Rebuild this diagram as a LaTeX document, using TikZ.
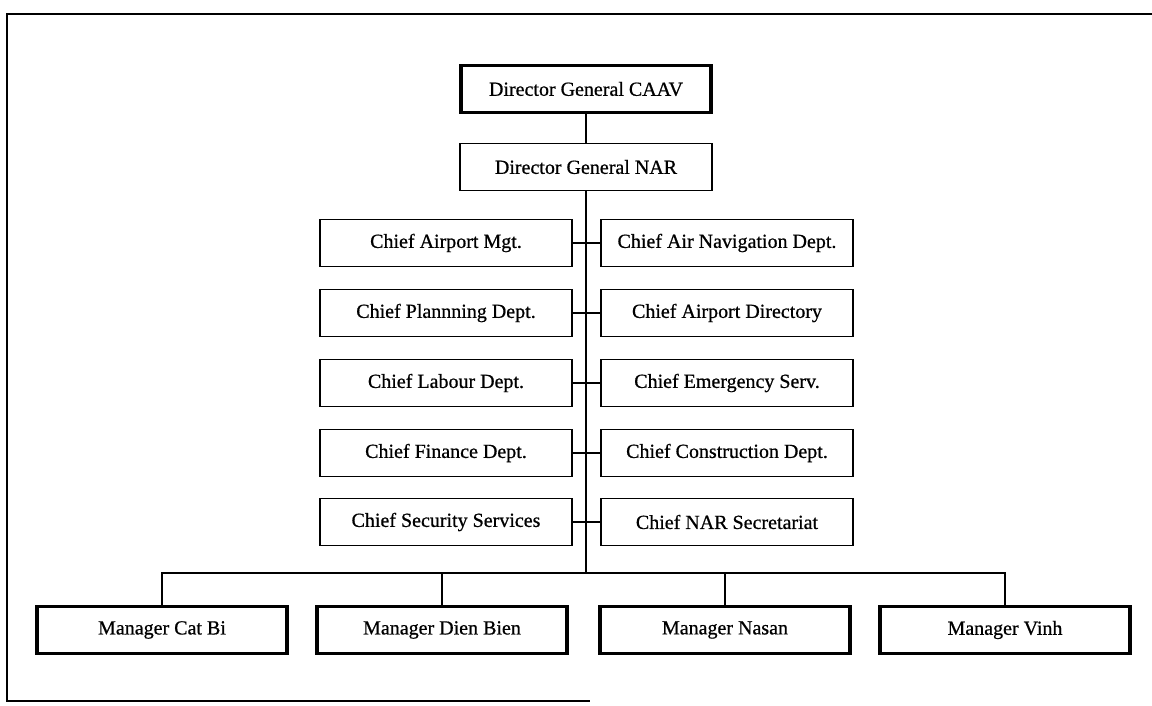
\documentclass[tikz,border=0pt]{standalone}
\usepackage{fontspec}
\setmainfont{Liberation Serif}
\newfontfamily\scanfont{Liberation Serif}[FakeBold=0.7]
\begin{document}
\begin{tikzpicture}[x=1pt,y=-1pt,
  every node/.style={font=\scanfont\fontsize{20}{23}\selectfont},
  thinbox/.style={draw, line width=1.5pt, minimum width=252pt, minimum height=47pt, inner sep=2pt},
  thickbox/.style={draw, line width=3.2pt, minimum width=250pt, minimum height=47pt, inner sep=2pt},
  link/.style={line width=1.9pt},
  frame/.style={line width=1.6pt}]
\useasboundingbox (0,0) rectangle (1152,706);
% frame
\coordinate (ftl) at (7,14);
\coordinate (ftr) at (1152,14);
\coordinate (fbl) at (7,701);
\coordinate (fbr) at (590,701);
\draw[frame] (ftr) -- (ftl) -- (fbl) -- (fbr);
% top
\node[thickbox] (caav) at (586,89) {Director General CAAV};
\node[thinbox] (nar) at (586,167) {Director General NAR};
% chiefs
\node[thinbox] (l1) at (446,243) {Chief Airport Mgt.};
\node[thinbox] (l2) at (446,313) {Chief Plannning Dept.};
\node[thinbox] (l3) at (446,383) {Chief Labour Dept.};
\node[thinbox] (l4) at (446,453) {Chief Finance Dept.};
\node[thinbox] (l5) at (446,522) {Chief Security Services};
\node[thinbox] (r1) at (727,243) {Chief Air Navigation Dept.};
\node[thinbox] (r2) at (727,313) {Chief Airport Directory};
\node[thinbox] (r3) at (727,383) {Chief Emergency Serv.};
\node[thinbox] (r4) at (727,453) {Chief Construction Dept.};
\node[thinbox] (r5) at (727,522) {Chief NAR Secretariat};
% managers
\node[thickbox] (m1) at (162,630) {Manager Cat Bi};
\node[thickbox] (m2) at (442,630) {Manager Dien Bien};
\node[thickbox] (m3) at (725,630) {Manager Nasan};
\node[thickbox] (m4) at (1005,630) {Manager Vinh};
% connectors
\coordinate (bus) at (586,573);
\draw[link] (caav) -- (nar);
\draw[link] (nar.south) -- (bus);
\foreach \i in {1,...,5} {\draw[link] (l\i.east) -- (r\i.west);}
\draw[link] (m1.north) |- (bus) -| (m4.north);
\draw[link] (m2.north) -- (m2.north |- bus);
\draw[link] (m3.north) -- (m3.north |- bus);
\end{tikzpicture}
\end{document}
